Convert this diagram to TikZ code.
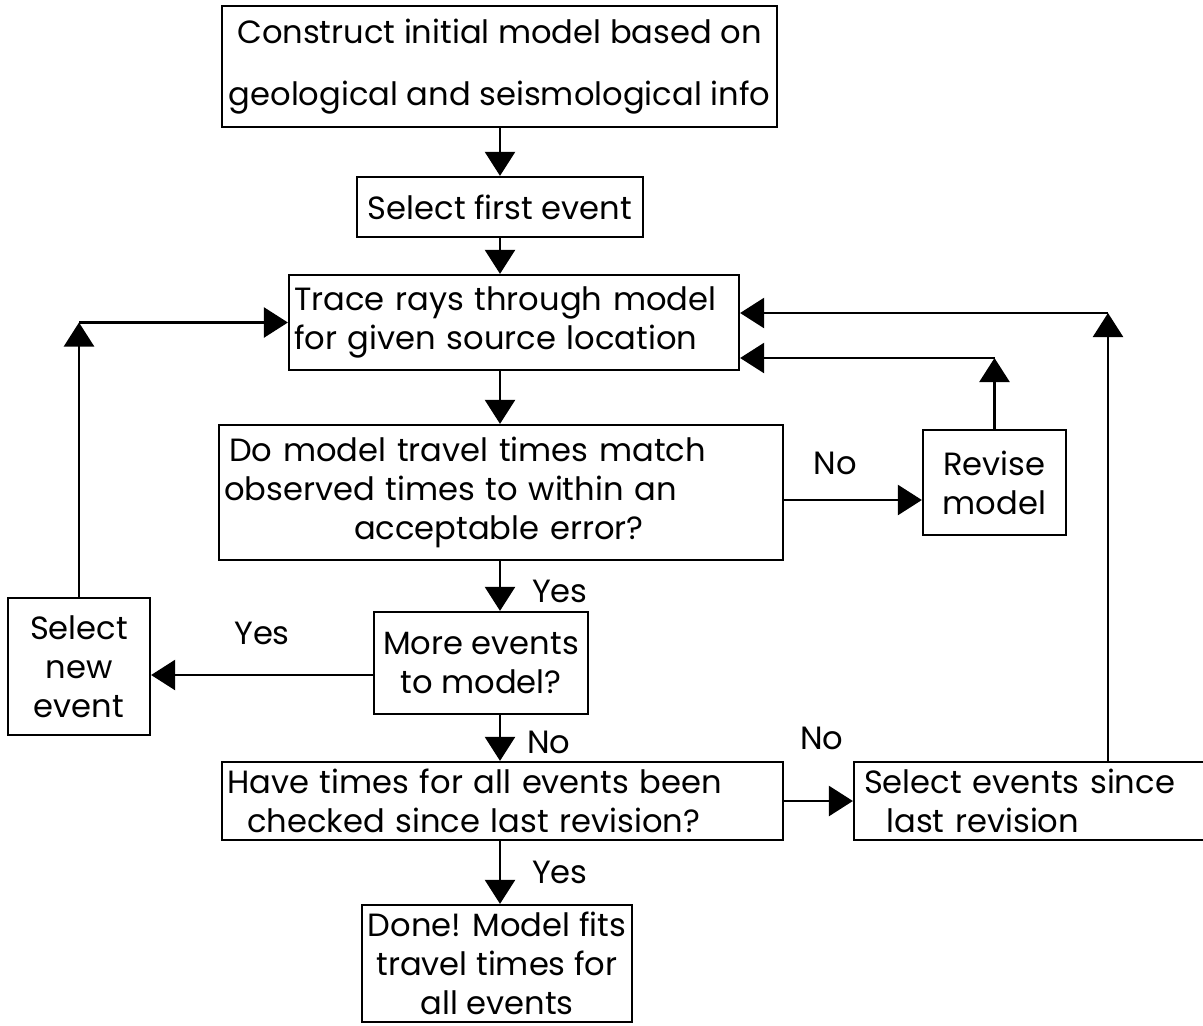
\documentclass[tikz,border=0pt]{standalone}
\usepackage{fontspec}
\setmainfont{Poppins}
\usepackage{tikz}
\usetikzlibrary{arrows.meta,positioning}

\begin{document}
\begin{tikzpicture}[
  x=0.02cm, y=-0.02cm,
  every node/.style={font=\fontsize{18.3}{22.2}\selectfont},
  box/.style={draw,line width=1.3pt,inner sep=0pt,align=center},
  lbox/.style={box,align=left,inner xsep=0.1cm},
  arr/.style={-{Triangle[length=0.48cm,width=0.6cm]},line width=1.4pt},
]
\useasboundingbox (0,0) rectangle (1203,1025);

\node[box,minimum width=11.1cm,minimum height=2.42cm,font=\fontsize{18.3}{35}\selectfont] (init) at (499.5,66.5) {Construct initial model based on\\geological and seismological info};
\node[box,minimum width=5.72cm,minimum height=1.2cm] (first) at (500,207) {Select first event};
\node[lbox,text width=8.8cm,minimum height=1.9cm] (trace) at (514,322.5) {Trace rays through model\\for given source location};
\node[lbox,text width=11.08cm,minimum height=2.7cm] (match) at (501,492.5) {\hspace*{0.1cm}Do model travel times match\\observed times to within an\\\hspace*{2.6cm}acceptable error?};
\node[box,minimum width=2.86cm,minimum height=2.1cm] (revise) at (994.5,482.5) {Revise\\model};
\node[box,minimum width=4.28cm,minimum height=2.04cm] (more) at (481,663) {More events\\to model?};
\node[box,minimum width=2.84cm,minimum height=2.74cm] (newev) at (79,666.5) {Select\\new\\event};
\node[lbox,text width=11.02cm,minimum height=1.56cm] (checked) at (502.5,801) {Have times for all events been\\\hspace*{0.4cm}checked since last revision?};
\node[lbox,text width=7.02cm,minimum height=1.56cm] (since) at (1034.5,801) {\hspace*{0.1cm}Select events since\\\hspace*{0.55cm}last revision};
\node[box,minimum width=5.4cm,minimum height=2.34cm] (done) at (497,963.5) {Done! Model fits\\travel times for\\all events};

\coordinate (c1) at (newev.north |- trace.west);
\coordinate (c2) at (revise.north |- 0,358);
\coordinate (c3) at (1108,313);

\draw[arr] (init.south -| first) -- (first);
\draw[arr] (first) -- (trace.north -| first);
\draw[arr] (trace.south -| first) -- (match.north -| first);
\draw[arr] (match.south -| first) -- node[right=0.5cm,pos=0.6] {Yes} (more.north -| first);
\draw[arr] ([yshift=-0.15cm]match.east) -- node[above=0.36cm,pos=0.37] {No} ([yshift=-0.15cm]match.east -| revise.west);
\draw[arr] (revise) -- (c2);
\draw[arr] (c2) -- (c2 -| trace.east);
\draw[arr] ([yshift=-0.24cm]more.west) -- node[above=0.46cm] {Yes} ([yshift=-0.24cm]more.west -| newev.east);
\draw[arr] (newev) -- (c1);
\draw[arr] (c1) -- (trace.west);
\draw[arr] (more.south -| first) -- node[right=0.4cm,pos=0.6] {No} (checked.north -| first);
\draw[arr] (checked) -- node[above=0.88cm,pos=0.55] {No} (since);
\draw[arr] (since.north -| c3) -- (c3);
\draw[arr] (c3) -- (c3 -| trace.east);
\draw[arr] (checked.south -| first) -- node[right=0.5cm,pos=0.5] {Yes} (done.north -| first);
\end{tikzpicture}
\end{document}
